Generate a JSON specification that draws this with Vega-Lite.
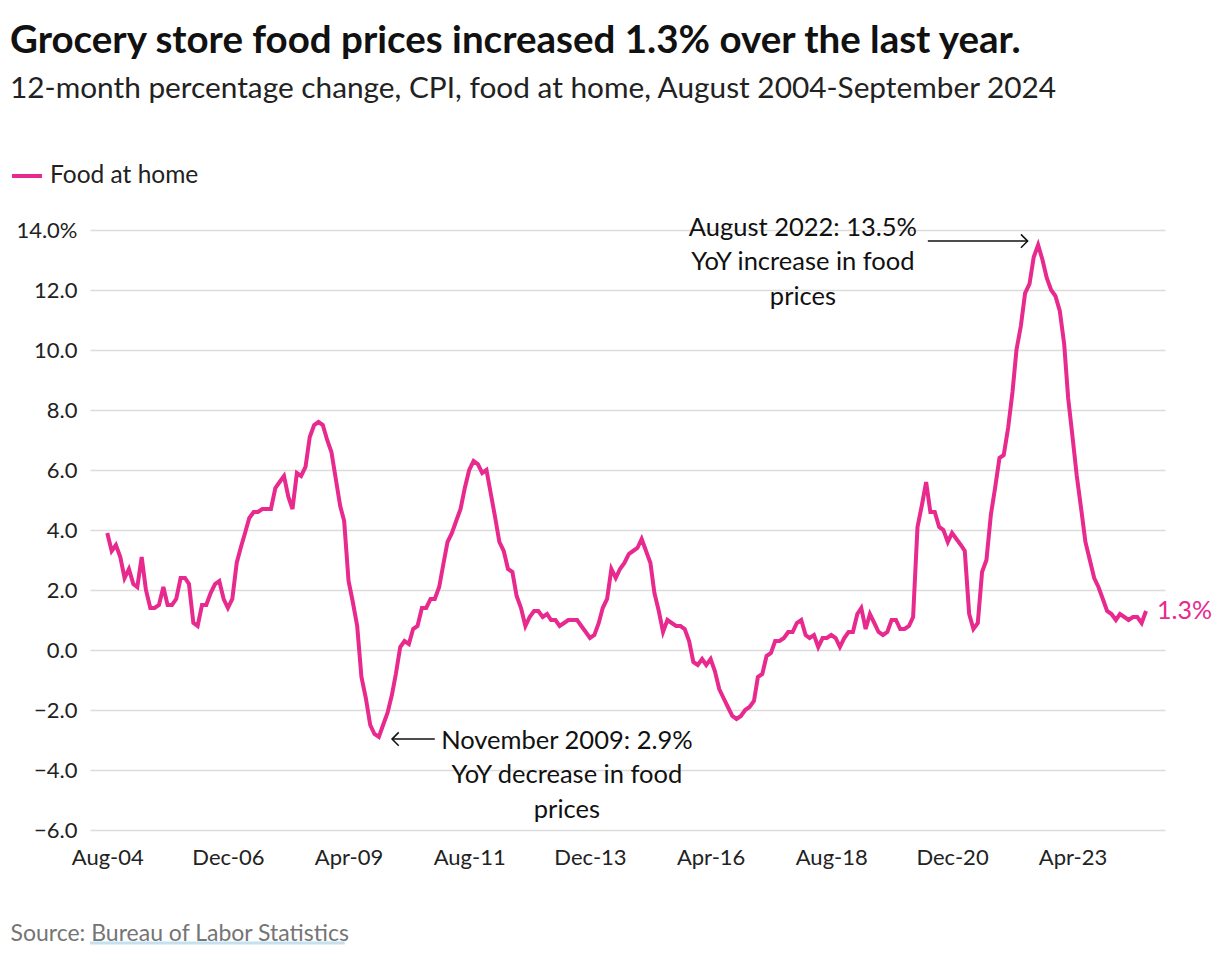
{
  "$schema": "https://vega.github.io/schema/vega-lite/v6.json",
  "width": 1075,
  "height": 600,
  "autosize": {"type": "none"},
  "padding": {"left": 90, "top": 230, "right": 55, "bottom": 126},
  "background": "white",
  "config": {
    "font": "Lato",
    "view": {"stroke": null}
  },
  "title": {
    "text": "Grocery store food prices increased 1.3% over the last year.",
    "subtitle": "12-month percentage change, CPI, food at home, August 2004-September 2024",
    "anchor": "start",
    "frame": "group",
    "dx": -80,
    "offset": 54,
    "font": "Lato",
    "fontSize": 38.5,
    "fontWeight": "bold",
    "color": "#111111",
    "subtitleFont": "Lato",
    "subtitleFontSize": 29.8,
    "subtitleColor": "#222222",
    "subtitlePadding": 13
  },
  "datasets": {
    "food": [
      {"date": "2004-08", "v": 3.9}, {"date": "2004-09", "v": 3.3}, {"date": "2004-10", "v": 3.5}, {"date": "2004-11", "v": 3.1}, {"date": "2004-12", "v": 2.4},
      {"date": "2005-01", "v": 2.7}, {"date": "2005-02", "v": 2.2}, {"date": "2005-03", "v": 2.1}, {"date": "2005-04", "v": 3.1}, {"date": "2005-05", "v": 2.0}, {"date": "2005-06", "v": 1.4}, {"date": "2005-07", "v": 1.4}, {"date": "2005-08", "v": 1.5}, {"date": "2005-09", "v": 2.1}, {"date": "2005-10", "v": 1.5}, {"date": "2005-11", "v": 1.5}, {"date": "2005-12", "v": 1.7},
      {"date": "2006-01", "v": 2.4}, {"date": "2006-02", "v": 2.4}, {"date": "2006-03", "v": 2.2}, {"date": "2006-04", "v": 0.9}, {"date": "2006-05", "v": 0.8}, {"date": "2006-06", "v": 1.5}, {"date": "2006-07", "v": 1.5}, {"date": "2006-08", "v": 1.9}, {"date": "2006-09", "v": 2.2}, {"date": "2006-10", "v": 2.3}, {"date": "2006-11", "v": 1.7}, {"date": "2006-12", "v": 1.4},
      {"date": "2007-01", "v": 1.7}, {"date": "2007-02", "v": 2.9}, {"date": "2007-03", "v": 3.4}, {"date": "2007-04", "v": 3.9}, {"date": "2007-05", "v": 4.4}, {"date": "2007-06", "v": 4.6}, {"date": "2007-07", "v": 4.6}, {"date": "2007-08", "v": 4.7}, {"date": "2007-09", "v": 4.7}, {"date": "2007-10", "v": 4.7}, {"date": "2007-11", "v": 5.4}, {"date": "2007-12", "v": 5.6},
      {"date": "2008-01", "v": 5.8}, {"date": "2008-02", "v": 5.1}, {"date": "2008-03", "v": 4.7}, {"date": "2008-04", "v": 5.9}, {"date": "2008-05", "v": 5.8}, {"date": "2008-06", "v": 6.1}, {"date": "2008-07", "v": 7.1}, {"date": "2008-08", "v": 7.5}, {"date": "2008-09", "v": 7.6}, {"date": "2008-10", "v": 7.5}, {"date": "2008-11", "v": 7.0}, {"date": "2008-12", "v": 6.6},
      {"date": "2009-01", "v": 5.7}, {"date": "2009-02", "v": 4.8}, {"date": "2009-03", "v": 4.3}, {"date": "2009-04", "v": 2.3}, {"date": "2009-05", "v": 1.6}, {"date": "2009-06", "v": 0.8}, {"date": "2009-07", "v": -0.9}, {"date": "2009-08", "v": -1.6}, {"date": "2009-09", "v": -2.5}, {"date": "2009-10", "v": -2.8}, {"date": "2009-11", "v": -2.9}, {"date": "2009-12", "v": -2.5},
      {"date": "2010-01", "v": -2.1}, {"date": "2010-02", "v": -1.5}, {"date": "2010-03", "v": -0.8}, {"date": "2010-04", "v": 0.1}, {"date": "2010-05", "v": 0.3}, {"date": "2010-06", "v": 0.2}, {"date": "2010-07", "v": 0.7}, {"date": "2010-08", "v": 0.8}, {"date": "2010-09", "v": 1.4}, {"date": "2010-10", "v": 1.4}, {"date": "2010-11", "v": 1.7}, {"date": "2010-12", "v": 1.7},
      {"date": "2011-01", "v": 2.1}, {"date": "2011-02", "v": 2.9}, {"date": "2011-03", "v": 3.6}, {"date": "2011-04", "v": 3.9}, {"date": "2011-05", "v": 4.3}, {"date": "2011-06", "v": 4.7}, {"date": "2011-07", "v": 5.4}, {"date": "2011-08", "v": 6.0}, {"date": "2011-09", "v": 6.3}, {"date": "2011-10", "v": 6.2}, {"date": "2011-11", "v": 5.9}, {"date": "2011-12", "v": 6.0},
      {"date": "2012-01", "v": 5.2}, {"date": "2012-02", "v": 4.4}, {"date": "2012-03", "v": 3.6}, {"date": "2012-04", "v": 3.3}, {"date": "2012-05", "v": 2.7}, {"date": "2012-06", "v": 2.6}, {"date": "2012-07", "v": 1.8}, {"date": "2012-08", "v": 1.4}, {"date": "2012-09", "v": 0.8}, {"date": "2012-10", "v": 1.1}, {"date": "2012-11", "v": 1.3}, {"date": "2012-12", "v": 1.3},
      {"date": "2013-01", "v": 1.1}, {"date": "2013-02", "v": 1.2}, {"date": "2013-03", "v": 1.0}, {"date": "2013-04", "v": 1.0}, {"date": "2013-05", "v": 0.8}, {"date": "2013-06", "v": 0.9}, {"date": "2013-07", "v": 1.0}, {"date": "2013-08", "v": 1.0}, {"date": "2013-09", "v": 1.0}, {"date": "2013-10", "v": 0.8}, {"date": "2013-11", "v": 0.6}, {"date": "2013-12", "v": 0.4},
      {"date": "2014-01", "v": 0.5}, {"date": "2014-02", "v": 0.9}, {"date": "2014-03", "v": 1.4}, {"date": "2014-04", "v": 1.7}, {"date": "2014-05", "v": 2.7}, {"date": "2014-06", "v": 2.4}, {"date": "2014-07", "v": 2.7}, {"date": "2014-08", "v": 2.9}, {"date": "2014-09", "v": 3.2}, {"date": "2014-10", "v": 3.3}, {"date": "2014-11", "v": 3.4}, {"date": "2014-12", "v": 3.7},
      {"date": "2015-01", "v": 3.3}, {"date": "2015-02", "v": 2.9}, {"date": "2015-03", "v": 1.9}, {"date": "2015-04", "v": 1.3}, {"date": "2015-05", "v": 0.6}, {"date": "2015-06", "v": 1.0}, {"date": "2015-07", "v": 0.9}, {"date": "2015-08", "v": 0.8}, {"date": "2015-09", "v": 0.8}, {"date": "2015-10", "v": 0.7}, {"date": "2015-11", "v": 0.3}, {"date": "2015-12", "v": -0.4},
      {"date": "2016-01", "v": -0.5}, {"date": "2016-02", "v": -0.3}, {"date": "2016-03", "v": -0.5}, {"date": "2016-04", "v": -0.3}, {"date": "2016-05", "v": -0.7}, {"date": "2016-06", "v": -1.3}, {"date": "2016-07", "v": -1.6}, {"date": "2016-08", "v": -1.9}, {"date": "2016-09", "v": -2.2}, {"date": "2016-10", "v": -2.3}, {"date": "2016-11", "v": -2.2}, {"date": "2016-12", "v": -2.0},
      {"date": "2017-01", "v": -1.9}, {"date": "2017-02", "v": -1.7}, {"date": "2017-03", "v": -0.9}, {"date": "2017-04", "v": -0.8}, {"date": "2017-05", "v": -0.2}, {"date": "2017-06", "v": -0.1}, {"date": "2017-07", "v": 0.3}, {"date": "2017-08", "v": 0.3}, {"date": "2017-09", "v": 0.4}, {"date": "2017-10", "v": 0.6}, {"date": "2017-11", "v": 0.6}, {"date": "2017-12", "v": 0.9},
      {"date": "2018-01", "v": 1.0}, {"date": "2018-02", "v": 0.5}, {"date": "2018-03", "v": 0.4}, {"date": "2018-04", "v": 0.5}, {"date": "2018-05", "v": 0.1}, {"date": "2018-06", "v": 0.4}, {"date": "2018-07", "v": 0.4}, {"date": "2018-08", "v": 0.5}, {"date": "2018-09", "v": 0.4}, {"date": "2018-10", "v": 0.1}, {"date": "2018-11", "v": 0.4}, {"date": "2018-12", "v": 0.6},
      {"date": "2019-01", "v": 0.6}, {"date": "2019-02", "v": 1.2}, {"date": "2019-03", "v": 1.4}, {"date": "2019-04", "v": 0.7}, {"date": "2019-05", "v": 1.2}, {"date": "2019-06", "v": 0.9}, {"date": "2019-07", "v": 0.6}, {"date": "2019-08", "v": 0.5}, {"date": "2019-09", "v": 0.6}, {"date": "2019-10", "v": 1.0}, {"date": "2019-11", "v": 1.0}, {"date": "2019-12", "v": 0.7},
      {"date": "2020-01", "v": 0.7}, {"date": "2020-02", "v": 0.8}, {"date": "2020-03", "v": 1.1}, {"date": "2020-04", "v": 4.1}, {"date": "2020-05", "v": 4.8}, {"date": "2020-06", "v": 5.6}, {"date": "2020-07", "v": 4.6}, {"date": "2020-08", "v": 4.6}, {"date": "2020-09", "v": 4.1}, {"date": "2020-10", "v": 4.0}, {"date": "2020-11", "v": 3.6}, {"date": "2020-12", "v": 3.9},
      {"date": "2021-01", "v": 3.7}, {"date": "2021-02", "v": 3.5}, {"date": "2021-03", "v": 3.3}, {"date": "2021-04", "v": 1.2}, {"date": "2021-05", "v": 0.7}, {"date": "2021-06", "v": 0.9}, {"date": "2021-07", "v": 2.6}, {"date": "2021-08", "v": 3.0}, {"date": "2021-09", "v": 4.5}, {"date": "2021-10", "v": 5.4}, {"date": "2021-11", "v": 6.4}, {"date": "2021-12", "v": 6.5},
      {"date": "2022-01", "v": 7.4}, {"date": "2022-02", "v": 8.6}, {"date": "2022-03", "v": 10.0}, {"date": "2022-04", "v": 10.8}, {"date": "2022-05", "v": 11.9}, {"date": "2022-06", "v": 12.2}, {"date": "2022-07", "v": 13.1}, {"date": "2022-08", "v": 13.5}, {"date": "2022-09", "v": 13.0}, {"date": "2022-10", "v": 12.4}, {"date": "2022-11", "v": 12.0}, {"date": "2022-12", "v": 11.8},
      {"date": "2023-01", "v": 11.3}, {"date": "2023-02", "v": 10.2}, {"date": "2023-03", "v": 8.4}, {"date": "2023-04", "v": 7.1}, {"date": "2023-05", "v": 5.8}, {"date": "2023-06", "v": 4.7}, {"date": "2023-07", "v": 3.6}, {"date": "2023-08", "v": 3.0}, {"date": "2023-09", "v": 2.4}, {"date": "2023-10", "v": 2.1}, {"date": "2023-11", "v": 1.7}, {"date": "2023-12", "v": 1.3},
      {"date": "2024-01", "v": 1.2}, {"date": "2024-02", "v": 1.0}, {"date": "2024-03", "v": 1.2}, {"date": "2024-04", "v": 1.1}, {"date": "2024-05", "v": 1.0}, {"date": "2024-06", "v": 1.1}, {"date": "2024-07", "v": 1.1}, {"date": "2024-08", "v": 0.9}, {"date": "2024-09", "v": 1.3}
    ],
    "last": [{"date": "2024-09", "v": 1.3, "label": "1.3%"}],
    "notes": [
      {"date": "2018-01-13", "v": 14.47, "label": ["August 2022: 13.5%", "YoY increase in food", "prices"]},
      {"date": "2013-06-21", "v": -2.62, "label": ["November 2009: 2.9%", "YoY decrease in food", "prices"]}
    ],
    "arrows": [
      {"date": "2020-06-13", "date2": "2022-05-19", "v": 13.63, "dir": "right"},
      {"date": "2010-12-01", "date2": "2010-02-02", "v": -2.97, "dir": "left"}
    ],
    "underline": [
      {"date": "2004-04-01", "date2": "2009-03-05", "v": -9.77}
    ]
  },
  "encoding": {
    "x": {
      "field": "date",
      "type": "temporal",
      "scale": {
        "type": "utc",
        "domain": [
          {"year": 2004, "month": 4, "date": 1, "utc": true},
          {"year": 2025, "month": 1, "date": 13, "utc": true}
        ]
      },
      "axis": {
        "values": [
          {"year": 2004, "month": 8, "date": 1, "utc": true},
          {"year": 2006, "month": 12, "date": 1, "utc": true},
          {"year": 2009, "month": 4, "date": 1, "utc": true},
          {"year": 2011, "month": 8, "date": 1, "utc": true},
          {"year": 2013, "month": 12, "date": 1, "utc": true},
          {"year": 2016, "month": 4, "date": 1, "utc": true},
          {"year": 2018, "month": 8, "date": 1, "utc": true},
          {"year": 2020, "month": 12, "date": 1, "utc": true},
          {"year": 2023, "month": 4, "date": 1, "utc": true}
        ],
        "format": "%b-%y",
        "grid": false,
        "ticks": false,
        "domain": false,
        "labelFont": "Lato",
        "labelFontSize": 22,
        "labelColor": "#222222",
        "labelPadding": 17,
        "labelFlush": false,
        "labelOverlap": false,
        "title": "Source: Bureau of Labor Statistics",
        "titleFont": "Lato",
        "titleFontSize": 23,
        "titleFontWeight": "normal",
        "titleColor": "#757575",
        "titleAnchor": "start",
        "titleAlign": "left",
        "titleBaseline": "alphabetic",
        "titleX": -80,
        "titleY": 110
      }
    },
    "y": {
      "field": "v",
      "type": "quantitative",
      "scale": {"domain": [-6, 14], "nice": false, "zero": false},
      "axis": {
        "values": [-6, -4, -2, 0, 2, 4, 6, 8, 10, 12, 14],
        "labelExpr": "datum.value == 14 ? format(datum.value, '.1f') + '%' : format(datum.value, '.1f')",
        "grid": true,
        "gridColor": "#dcdcdc",
        "gridWidth": 1.5,
        "ticks": false,
        "domain": false,
        "labelFont": "Lato",
        "labelFontSize": 22,
        "labelColor": "#222222",
        "labelPadding": 13,
        "title": null
      }
    }
  },
  "layer": [
    {
      "data": {"name": "food"},
      "mark": {"type": "line", "strokeWidth": 4, "interpolate": "linear"},
      "encoding": {
        "color": {
          "datum": "Food at home",
          "type": "nominal",
          "scale": {"range": ["#e8298e"]},
          "legend": {
            "orient": "none",
            "legendX": -80,
            "legendY": -71,
            "title": null,
            "symbolType": "stroke",
            "symbolStrokeWidth": 4,
            "symbolSize": 900,
            "labelFont": "Lato",
            "labelFontSize": 24.5,
            "labelColor": "#222222",
            "labelOffset": 6
          }
        }
      }
    },
    {
      "data": {"name": "last"},
      "mark": {"type": "text", "align": "left", "baseline": "middle", "dx": 11, "fontSize": 25, "font": "Lato", "color": "#e8298e"},
      "encoding": {"text": {"field": "label"}}
    },
    {
      "data": {"name": "notes"},
      "mark": {
        "type": "text",
        "align": "center",
        "baseline": "top",
        "fontSize": 25.5,
        "lineHeight": 34.5,
        "font": "Lato",
        "color": "#111111"
      },
      "encoding": {"text": {"field": "label"}}
    },
    {
      "data": {"name": "arrows"},
      "mark": {"type": "rule", "color": "#111111", "strokeWidth": 1.5},
      "encoding": {
        "x2": {"field": "date2"}
      }
    },
    {
      "data": {"name": "arrows"},
      "transform": [{"filter": "datum.dir == 'right'"}],
      "mark": {"type": "point", "shape": "M-1,-1L0,0L-1,1", "filled": false, "stroke": "#111111", "strokeWidth": 1.5, "size": 180, "opacity": 1},
      "encoding": {
        "x": {"field": "date2", "type": "temporal"}
      }
    },
    {
      "data": {"name": "arrows"},
      "transform": [{"filter": "datum.dir == 'left'"}],
      "mark": {"type": "point", "shape": "M1,-1L0,0L1,1", "filled": false, "stroke": "#111111", "strokeWidth": 1.5, "size": 180, "opacity": 1},
      "encoding": {
        "x": {"field": "date2", "type": "temporal"}
      }
    },
    {
      "data": {"name": "underline"},
      "mark": {"type": "rule", "color": "#c5e0ee", "strokeWidth": 3},
      "encoding": {
        "x2": {"field": "date2"}
      }
    }
  ]
}
